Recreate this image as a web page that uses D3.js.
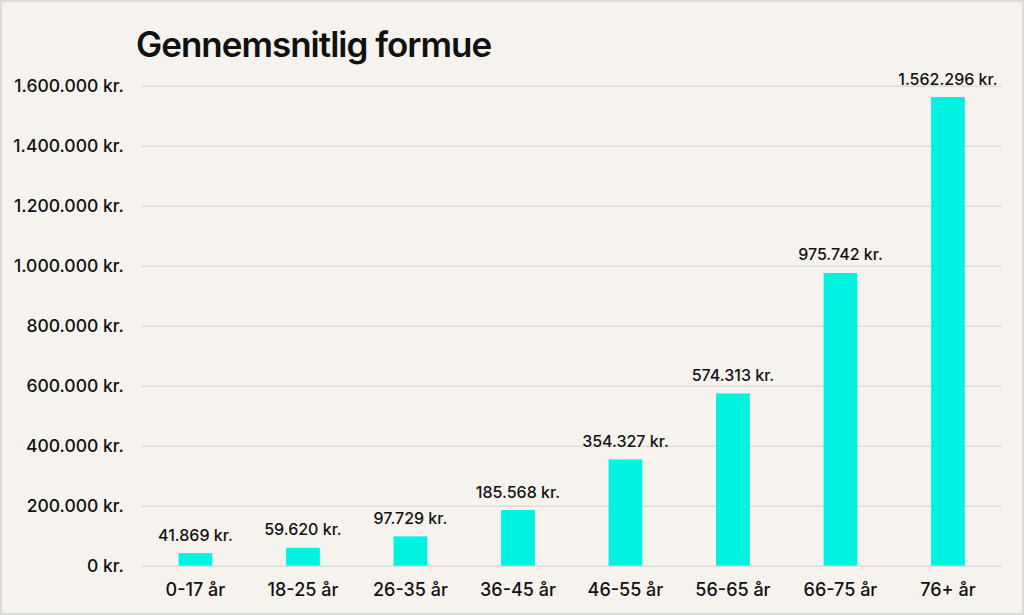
<!DOCTYPE html>
<html><head><meta charset="utf-8">
<script src="https://cdn.jsdelivr.net/npm/d3@7"></script>
<style>
html,body{margin:0;padding:0;background:#f6f3ee;}
svg{display:block;}
text{font-family:Inter,"Noto Sans",sans-serif;fill:#111;}
</style></head>
<body>
<svg id="chart" width="1024" height="615"></svg>
<script>
const title = "Gennemsnitlig formue";
const categories = ["0-17 år","18-25 år","26-35 år","36-45 år","46-55 år","56-65 år","66-75 år","76+ år"];
const values = [41869,59620,97729,185568,354327,574313,975742,1562296];
const yTicks = [0,200000,400000,600000,800000,1000000,1200000,1400000,1600000];

const W=1024,H=615;
const m={left:141.7,right:1001.7,top:85.7,bottom:565.7};
const svg=d3.select("#chart");
svg.append("rect").attr("x",1).attr("y",1).attr("width",W-2).attr("height",H-2)
  .attr("fill","#f6f3ee").attr("stroke","#dcdcdc").attr("stroke-width",2);

const fmt = v => d3.format(",")(v).replace(/,/g,".") + " kr.";

const x=d3.scaleBand().domain(categories).range([m.left,m.right]).paddingInner(0.686).paddingOuter(0.343);
const y=d3.scaleLinear().domain([0,1600000]).range([m.bottom,m.top]);

const yAxis=d3.axisLeft(y).tickValues(yTicks).tickSize(-(m.right-m.left)).tickPadding(18).tickFormat(fmt);
const gy=svg.append("g").attr("transform",`translate(${m.left},0)`).call(yAxis);
gy.select(".domain").remove();
gy.selectAll(".tick line").attr("stroke","#dedbd7").attr("stroke-width",1.5);
gy.selectAll(".tick text").attr("font-size",17.5).attr("font-weight",500).attr("fill","#111").attr("dy","0.32em");

svg.append("g").selectAll("rect").data(values).join("rect")
  .attr("x",(d,i)=>x(categories[i])).attr("width",x.bandwidth())
  .attr("y",d=>y(d)).attr("height",d=>y(0)-y(d)).attr("fill","#00f2e0");

svg.append("g").selectAll("text").data(values).join("text")
  .attr("x",(d,i)=>x(categories[i])+x.bandwidth()/2).attr("y",d=>y(d)-12.5)
  .attr("text-anchor","middle").attr("font-size",16).attr("font-weight",500).text(fmt);

const xAxis=d3.axisBottom(x).tickSize(0).tickPadding(18);
const gx=svg.append("g").attr("transform",`translate(0,${m.bottom})`).call(xAxis);
gx.select(".domain").remove();
gx.selectAll(".tick text").attr("font-size",18).attr("font-weight",500).attr("fill","#111");

svg.append("text").attr("x",136).attr("y",57).attr("font-size",35).attr("font-weight",600)
  .attr("letter-spacing","-1").text(title);
</script>
</body></html>
